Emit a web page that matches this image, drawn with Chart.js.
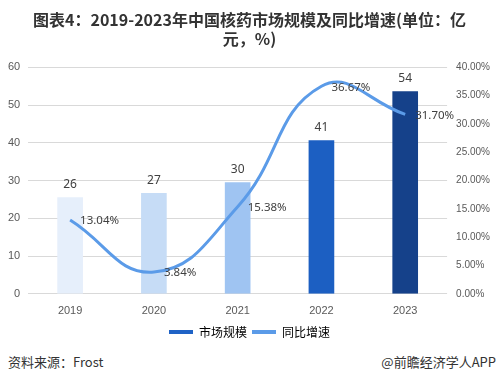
<!DOCTYPE html>
<html>
<head>
<meta charset="utf-8">
<script src="https://cdn.jsdelivr.net/npm/chart.js@4.4.1/dist/chart.umd.min.js"></script>
<style>
  body { margin: 0; background: #fff; font-family: "Noto Sans CJK SC", "Noto Sans", sans-serif; }
  #wrap { position: relative; width: 499px; height: 381px; }
  #box { position: absolute; left: 0; top: 0; width: 499px; height: 348px; }
  .foot { position: absolute; top: 352px; font-size: 13px; color: #333; }
</style>
</head>
<body>
<div id="wrap">
  <div id="box"><canvas id="myChart"></canvas></div>
  <div class="foot" style="left:8px;">资料来源：Frost</div>
  <div class="foot" style="right:3px;">@前瞻经济学人APP</div>
</div>
<script>
var years = ["2019", "2020", "2021", "2022", "2023"];
var marketSize = [25.5, 26.6, 29.5, 40.6, 53.6];
var sizeLabels = ["26", "27", "30", "41", "54"];
var growthRate = [13.04, 3.84, 15.38, 36.67, 31.70];
var barColors = ['#e6effb', '#c6dcf6', '#9fc4f2', '#1c5fc2', '#15418a'];

var labelPlugin = {
    id: 'valueLabels',
    afterDatasetsDraw: function (chart) {
        var ctx = chart.ctx;
        ctx.save();
        ctx.fillStyle = '#404040';
        ctx.textBaseline = 'middle';
        // bars are dataset 1, line is dataset 0
        ctx.font = '12px "Noto Sans", sans-serif';
        chart.getDatasetMeta(1).data.forEach(function (bar, i) {
            ctx.textAlign = 'center';
            ctx.fillText(sizeLabels[i], bar.x, bar.y - 13);
        });
        ctx.font = '11.5px "Noto Sans", sans-serif';
        chart.getDatasetMeta(0).data.forEach(function (pt, i) {
            ctx.textAlign = 'left';
            ctx.fillText(growthRate[i].toFixed(2) + '%', pt.x + 10, pt.y + 1);
        });
        ctx.restore();
    }
};

var ctx = document.getElementById('myChart').getContext('2d');
var myChart = new Chart(ctx, {
    type: 'bar',
    data: {
        labels: years,
        datasets: [{
            type: 'line',
            label: '同比增速',
            data: growthRate,
            yAxisID: 'y1',
            borderColor: '#5b9be8',
            borderWidth: 3,
            tension: 0.45,
            pointRadius: 0,
            fill: false,
            order: 0
        }, {
            label: '市场规模',
            data: marketSize,
            yAxisID: 'y',
            backgroundColor: barColors,
            barThickness: 25,
            order: 1
        }]
    },
    plugins: [labelPlugin],
    options: {
        responsive: true,
        maintainAspectRatio: false,
        animation: false,
        layout: { padding: { left: 0, right: 0, top: 0, bottom: 0 } },
        plugins: {
            title: {
                display: true,
                text: ['图表4：2019-2023年中国核药市场规模及同比增速(单位：亿', '元，%)'],
                color: '#333',
                font: { size: 16, weight: 'bold', family: '"Noto Sans CJK SC", sans-serif', lineHeight: 1.2 },
                padding: { top: 10, bottom: 19 }
            },
            legend: {
                position: 'bottom',
                labels: {
                    color: '#595959',
                    font: { size: 12, family: '"Noto Sans CJK SC", sans-serif' },
                    boxWidth: 24,
                    boxHeight: 4,
                    padding: 5,
                    generateLabels: function () {
                        return [
                            { text: '市场规模', fillStyle: '#1f63c6', strokeStyle: '#1f63c6', lineWidth: 0, datasetIndex: 1 },
                            { text: '同比增速', fillStyle: '#5b9be8', strokeStyle: '#5b9be8', lineWidth: 0, datasetIndex: 0 }
                        ];
                    }
                }
            },
            tooltip: { enabled: false }
        },
        scales: {
            x: {
                grid: { display: false },
                border: { display: false },
                ticks: { color: '#595959', font: { size: 11 }, padding: 3 }
            },
            y: {
                position: 'left',
                min: 0, max: 60,
                ticks: { stepSize: 10, color: '#595959', font: { size: 11 }, padding: 8 },
                grid: { color: '#d9d9d9', drawTicks: false },
                border: { display: false }
            },
            y1: {
                position: 'right',
                min: 0, max: 40,
                ticks: {
                    stepSize: 5, color: '#595959', font: { size: 10 }, padding: 9,
                    callback: function (v) { return v.toFixed(2) + '%'; }
                },
                grid: { display: false, drawTicks: false },
                border: { display: false }
            }
        }
    }
});
</script>
</body>
</html>
